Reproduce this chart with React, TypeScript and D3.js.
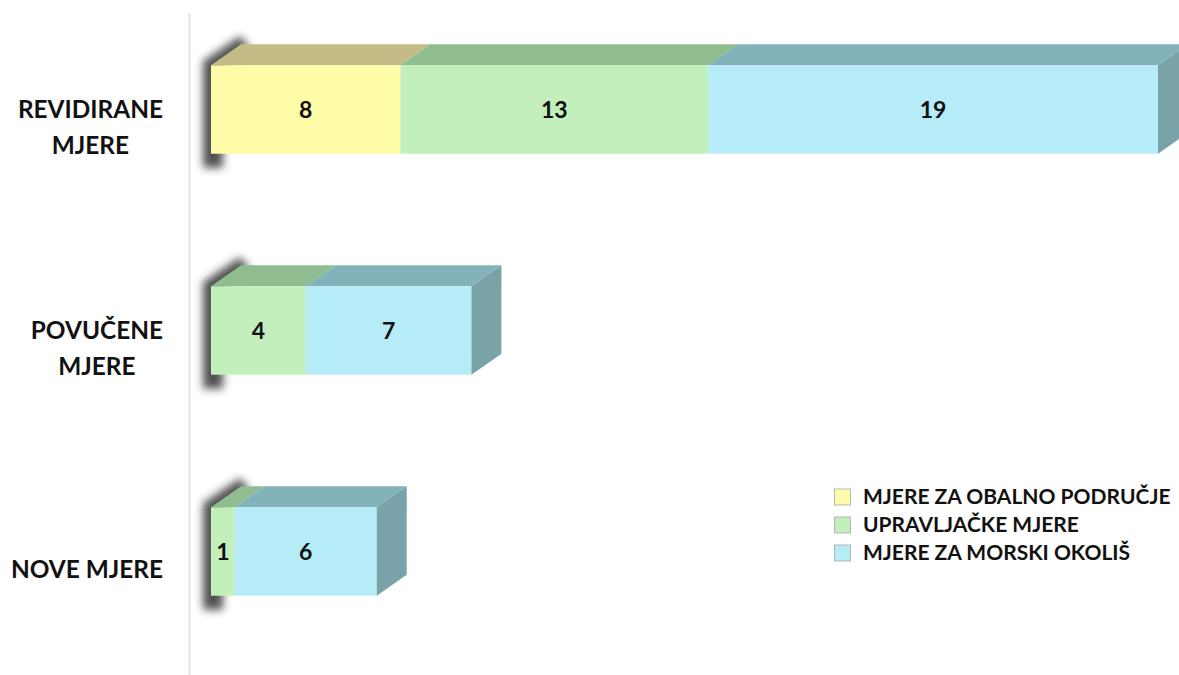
import React, { useEffect, useRef } from 'react';
import * as d3 from 'd3';

// categories, top to bottom
const categories = ['REVIDIRANE MJERE', 'POVUČENE MJERE', 'NOVE MJERE'];
const categoryLines = [['REVIDIRANE', 'MJERE'], ['POVUČENE', 'MJERE'], ['NOVE MJERE']];

// series
const seriesNames = ['MJERE ZA OBALNO PODRUČJE', 'UPRAVLJAČKE MJERE', 'MJERE ZA MORSKI OKOLIŠ'];
const obalnoPodrucje = [8, 0, 0];
const upravljacke = [13, 4, 1];
const morskiOkolis = [19, 7, 6];

const frontColors = ['#FFFCA9', '#C3EFBD', '#B6ECF8'];
const topColors = ['#C3BC86', '#8FBD90', '#84B2BB'];
const sideColor = '#7AA3A9';

const W = 1179;
const H = 675;
const DX = 30;
const DY = 21;
const FONT = 'Lato, "Open Sans", sans-serif';

const App = () => {
  const svgRef = useRef<SVGSVGElement>(null);

  useEffect(() => {
    if (!svgRef.current) return;
    const svg = d3.select(svgRef.current);
    svg.selectAll('*').remove();

    const rows = categories.map((c, i) => ({
      category: c,
      s0: obalnoPodrucje[i],
      s1: upravljacke[i],
      s2: morskiOkolis[i],
    }));
    const keys = ['s0', 's1', 's2'];
    const stacked = d3.stack<any>().keys(keys)(rows);

    const x = d3.scaleLinear().domain([0, 40]).range([211, 1158]);
    const y = d3.scaleBand<string>()
      .domain(categories)
      .range([-1, 662])
      .paddingInner(0.6)
      .paddingOuter(0.3);

    const defs = svg.append('defs');
    defs.append('filter')
      .attr('id', 'shadowBlur')
      .attr('x', '-50%').attr('y', '-50%')
      .attr('width', '200%').attr('height', '200%')
      .append('feGaussianBlur')
      .attr('stdDeviation', 4.5);

    // vertical axis line
    svg.append('line')
      .attr('x1', 189.5).attr('x2', 189.5)
      .attr('y1', 13).attr('y2', H)
      .attr('stroke', '#e0e0e0')
      .attr('stroke-width', 1.8);

    const bars = svg.append('g');

    categories.forEach((cat, ci) => {
      const y0 = y(cat)!;
      const y1 = y0 + y.bandwidth();
      const x0 = x(0);
      const g = bars.append('g');

      // soft shadow on the left
      g.append('polygon')
        .attr('points', [
          [x0 + DX - 1, y0 - DY - 8],
          [x0 - 8, y0 - 4],
          [x0 - 8, y1 + 14],
          [x0 + 12, y1 + 14],
          [x0 + 12, y0 + 4],
          [x0 + DX + 8, y0 - DY + 2],
        ].map((p) => p.join(',')).join(' '))
        .attr('fill', '#333')
        .attr('opacity', 0.85)
        .attr('filter', 'url(#shadowBlur)');

      let lastEnd = x0;
      stacked.forEach((layer, si) => {
        const [a, b] = layer[ci];
        if (b - a <= 0) return;
        const xa = x(a);
        const xb = x(b);
        lastEnd = xb;
        // top face
        g.append('polygon')
          .attr('points', [
            [xa, y0], [xa + DX, y0 - DY], [xb + DX, y0 - DY], [xb, y0],
          ].map((p) => p.join(',')).join(' '))
          .attr('fill', topColors[si]);
        // front face
        g.append('rect')
          .attr('x', xa)
          .attr('y', y0)
          .attr('width', xb - xa)
          .attr('height', y1 - y0)
          .attr('fill', frontColors[si]);
        g.append('text')
          .attr('x', (xa + xb) / 2)
          .attr('y', (y0 + y1) / 2)
          .attr('dy', '0.35em')
          .attr('text-anchor', 'middle')
          .attr('font-family', FONT)
          .attr('font-weight', 700)
          .attr('font-size', 23)
          .attr('fill', '#111')
          .text(b - a);
      });
      // right side face
      g.append('polygon')
        .attr('points', [
          [lastEnd, y0], [lastEnd + DX, y0 - DY], [lastEnd + DX, y1 - DY], [lastEnd, y1],
        ].map((p) => p.join(',')).join(' '))
        .attr('fill', sideColor);

      // category label, block right-aligned, lines centered in block
      const lines = categoryLines[ci];
      const lg = svg.append('g');
      const cy = (y0 + y1) / 2 + 18;
      const lh = 35.5;
      const texts = lines.map((line, li) =>
        lg.append('text')
          .attr('y', cy + (li - (lines.length - 1) / 2) * lh)
          .attr('dy', '0.35em')
          .attr('text-anchor', 'middle')
          .attr('font-family', FONT)
          .attr('font-weight', 700)
          .attr('font-size', 24.4)
          .attr('fill', '#111')
          .text(line));
      const widths = texts.map((t) => (t.node() as SVGTextElement).getComputedTextLength());
      const maxW = d3.max(widths) || 0;
      texts.forEach((t) => t.attr('x', 163 - maxW / 2));
    });

    // legend
    const legend = svg.append('g').attr('transform', 'translate(834,0)');
    const legendY = [497, 525, 553];
    seriesNames.forEach((name, i) => {
      legend.append('rect')
        .attr('x', 0.5)
        .attr('y', legendY[i] - 8)
        .attr('width', 16)
        .attr('height', 16)
        .attr('fill', frontColors[i])
        .attr('stroke', '#b5b5b5')
        .attr('stroke-width', 1);
      legend.append('text')
        .attr('x', 29)
        .attr('y', legendY[i])
        .attr('dy', '0.35em')
        .attr('font-family', FONT)
        .attr('font-weight', 700)
        .attr('font-size', 21)
        .attr('fill', '#111')
        .text(name);
    });
  }, []);

  return (
    <div style={{ position: 'absolute', left: 0, top: 0, width: W, height: H, background: '#fff' }}>
      <svg ref={svgRef} width={W} height={H} style={{ display: 'block' }} />
    </div>
  );
};

export default App;
